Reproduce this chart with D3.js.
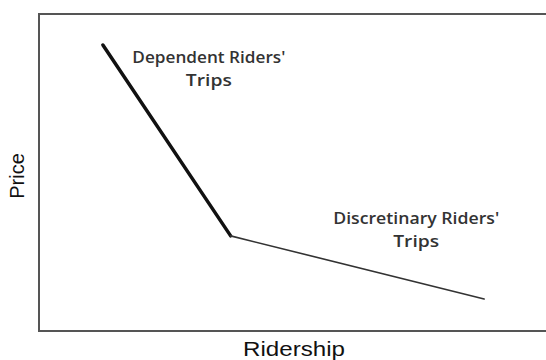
<!DOCTYPE html>
<html><head><meta charset="utf-8">
<script src="https://cdn.jsdelivr.net/npm/d3@7"></script>
<style>html,body{margin:0;padding:0;background:#fff;}svg{display:block;}</style>
</head><body>
<svg id="c" width="546" height="360"></svg>
<script>
// Data (arbitrary units)
const segments = ["Dependent Riders' Trips", "Discretinary Riders' Trips"];
const dependentPts = [[12.6, 90.2], [37.8, 30.0]];
const discretionaryPts = [[37.8, 30.0], [87.8, 10.1]];
const labelLines = [["Dependent Riders'", "Trips"], ["Discretinary Riders'", "Trips"]];
const labelPos = [[33.5, 84.4], [74.4, 33.7]];
const labelWidths = [[153, 46], [166, 46]];
const axisTitles = ["Ridership", "Price"];

const svg = d3.select("#c");
const x = d3.scaleLinear().domain([0, 100]).range([39, 546]);
const y = d3.scaleLinear().domain([0, 100]).range([331, 14]);

// frame
svg.append("rect")
  .attr("x", x(0)).attr("y", y(100))
  .attr("width", x(100) - x(0) + 10).attr("height", y(0) - y(100))
  .attr("fill", "none").attr("stroke", "#555").attr("stroke-width", 2);

const line = d3.line().x(d => x(d[0])).y(d => y(d[1]));
svg.append("path").datum(dependentPts).attr("d", line)
  .attr("fill", "none").attr("stroke", "#111").attr("stroke-width", 3.5).attr("stroke-linecap", "round");
svg.append("path").datum(discretionaryPts).attr("d", line)
  .attr("fill", "none").attr("stroke", "#333").attr("stroke-width", 1.6).attr("stroke-linecap", "round");

labelLines.forEach((lines, i) => {
  lines.forEach((l, j) => {
    svg.append("text")
      .attr("x", x(labelPos[i][0])).attr("y", y(labelPos[i][1]) + j * 22.5)
      .attr("text-anchor", "middle")
      .attr("font-family", "'Open Sans', sans-serif")
      .attr("font-weight", 600)
      .attr("font-size", 15.5).attr("fill", "#333")
      .attr("textLength", labelWidths[i][j]).attr("lengthAdjust", "spacingAndGlyphs")
      .text(l);
  });
});

svg.append("text").attr("x", 294).attr("y", 356)
  .attr("text-anchor", "middle")
  .attr("font-family", "'Liberation Sans', Arial, sans-serif")
  .attr("font-size", 20).attr("fill", "#111")
  .attr("textLength", 102).attr("lengthAdjust", "spacingAndGlyphs")
  .text(axisTitles[0]);
svg.append("text").attr("transform", "translate(24,176) rotate(-90)")
  .attr("text-anchor", "middle")
  .attr("font-family", "'Liberation Sans', Arial, sans-serif")
  .attr("font-size", 20).attr("fill", "#111").text(axisTitles[1]);
</script>
</body></html>
